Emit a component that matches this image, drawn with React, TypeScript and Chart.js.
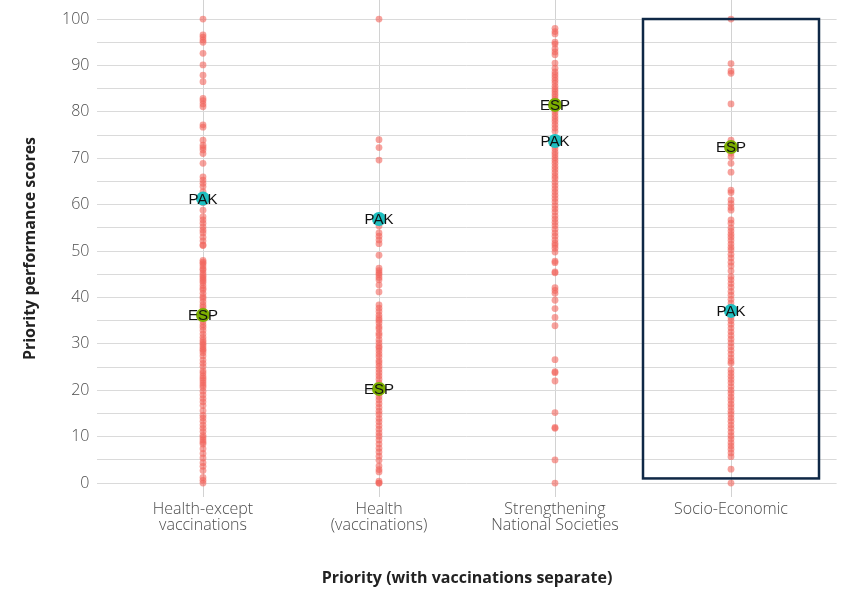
import React, { useEffect, useRef } from 'react';
import { Chart, registerables } from 'chart.js';

Chart.register(...registerables);

const categories: string[][] = [
  ['Health-except', 'vaccinations'],
  ['Health', '(vaccinations)'],
  ['Strengthening', 'National Societies'],
  ['Socio-Economic'],
];

const healthExceptScores = [
  100, 96.6, 96.1, 95.5, 95, 92.6, 90.1, 87.9, 86.5, 82.9, 82.4, 81.7, 81.1, 77.2, 76.7,
  73.9, 72.8, 72.3, 71.8, 71, 68.9, 66, 65.3, 64.6, 63.9, 62.8, 60.4, 58.8, 57.4, 56.7,
  56, 55.2, 54.5, 53.9, 53, 52.2, 51.2, 51.3, 48, 47.6, 47.3, 46.8, 46.2, 45.9, 45.3,
  44.8, 44.4, 44, 43.6, 43.2, 42.6, 42, 41.6, 40.9, 40.2, 39.8, 39.1, 38.4, 37.9, 37.2,
  36.6, 35.5, 34.8, 34.1, 33.6, 32.9, 32.1, 31.4, 30.8, 30.3, 29.9, 29.4, 28.9, 28.6,
  28.1, 27.4, 26.5, 25.8, 25.1, 24.2, 23.7, 23.1, 22.6, 22.1, 21.6, 21.1, 20.6, 19.8,
  19, 18.2, 17.5, 16.7, 15.6, 14.6, 14, 13.3, 12.5, 11.8, 11.1, 10.3, 9.8, 9.3, 8.8,
  8.4, 7.4, 6.4, 5.4, 4.4, 3.6, 2.7, 1.2, 0.6, 0,
];

const healthVaccScores = [
  100, 74, 72.3, 69.6, 56.1, 55.4, 53.9, 53.2, 52.4, 51.6, 49.1, 46.3, 45.8, 45.3, 44.9,
  44.3, 43.8, 42.7, 41.2, 38.4, 37.7, 37, 36.2, 35.6, 35.1, 34.5, 33.7, 33.2, 32.3, 31.8,
  30.9, 30.2, 29.5, 29.1, 28.5, 27.8, 27.2, 26.4, 25.9, 25.2, 24.5, 23.8, 23.1, 22.4,
  21.6, 19.3, 18.6, 17.9, 17.1, 16.3, 15.5, 14.8, 13.9, 13.2, 12.4, 11.6, 10.8, 10.1,
  9.3, 8.4, 7.5, 6.7, 5.8, 4.9, 3.7, 2.9, 2.4, 0.4, 0, 0,
];

const strengtheningScores = [
  98, 97.3, 96.8, 95, 94.6, 93.6, 92.9, 92.3, 90.5, 89.4, 88.6, 88, 87.4, 86.8, 86.2,
  85.5, 84.9, 84.4, 83.8, 83.2, 82.6, 82.1, 80.4, 79.8, 79.1, 78.5, 77.9, 77.2, 76.5,
  75.8, 73.1, 72.6, 72, 71.3, 70.7, 70.1, 69.5, 68.9, 68.2, 67.6, 66.9, 66.2, 65.6,
  64.8, 64.1, 63.4, 62.7, 62, 61.3, 60.6, 59.8, 59.1, 58.4, 57.6, 56.9, 56.2, 55.5,
  54.7, 53.9, 53.2, 52.4, 51.7, 51.2, 50.6, 49.8, 47.8, 47.5, 45.5, 45.3, 42.1, 41.5,
  40.9, 39.4, 37.6, 35.7, 33.9, 26.6, 24, 23.8, 22, 15.2, 12, 11.8, 5, 0,
];

const socioEconomicScores = [
  100, 90.4, 88.8, 88.3, 81.7, 73.9, 71.8, 71.1, 70.3, 68.9, 67, 63.1, 62.6, 61, 60.2,
  59.4, 58.8, 56.7, 56, 55, 54.3, 53.6, 53, 52.3, 51.5, 50.8, 50.2, 49.3, 48.5, 47.6,
  46.8, 45.7, 44.5, 43.8, 43, 42.2, 41.3, 40.5, 39.6, 38.8, 37.9, 36.3, 35.7, 35, 34.2,
  33.4, 32.6, 31.8, 31, 30.2, 29.4, 28.6, 27.8, 27, 26.3, 25.8, 24.4, 23.7, 23, 22.3,
  21.6, 20.8, 20, 19.3, 18.5, 17.8, 17, 16.3, 15.5, 14.8, 14, 13.3, 12.5, 11.8, 11,
  10.2, 9.5, 8.7, 8, 7.3, 6.5, 5.7, 3, 0,
];

const allScores = [healthExceptScores, healthVaccScores, strengtheningScores, socioEconomicScores];

const pakScores = [61.3, 56.9, 73.7, 37.1];
const espScores = [36.2, 20.3, 81.5, 72.4];

const yTickValues = [0, 5, 10, 15, 20, 25, 30, 35, 40, 45, 50, 55, 60, 65, 70, 75, 80, 85, 90, 95, 100];
const xTickValues = [1, 2, 3, 4];

// highlighted category box (Socio-Economic), in data units
const boxCategory = 4;
const boxScoreRange = [1, 100];

const boxPlugin = {
  id: 'boxPlugin',
  afterDatasetsDraw(chart: any) {
    const { ctx, scales } = chart;
    const x0 = scales.x.getPixelForValue(boxCategory - 0.5);
    const x1 = scales.x.getPixelForValue(boxCategory + 0.5);
    const y0 = scales.y.getPixelForValue(boxScoreRange[1]);
    const y1 = scales.y.getPixelForValue(boxScoreRange[0]);
    ctx.save();
    ctx.strokeStyle = '#0f2846';
    ctx.lineWidth = 2.5;
    ctx.strokeRect(x0, y0, x1 - x0, y1 - y0);
    ctx.restore();
  },
};

const labelPlugin = {
  id: 'labelPlugin',
  afterDraw(chart: any) {
    const { ctx } = chart;
    ctx.save();
    ctx.font = '15px "Liberation Sans", Arial, sans-serif';
    ctx.fillStyle = '#111';
    ctx.textAlign = 'center';
    ctx.textBaseline = 'middle';
    chart.data.datasets.forEach((ds: any, i: number) => {
      if (!ds.countryLabel) return;
      const meta = chart.getDatasetMeta(i);
      meta.data.forEach((pt: any) => {
        ctx.fillText(ds.countryLabel, pt.x, pt.y + 1);
      });
    });
    ctx.restore();
  },
};

export default function App() {
  const canvasRef = useRef<HTMLCanvasElement | null>(null);

  useEffect(() => {
    if (!canvasRef.current) return;
    const redPoints: { x: number; y: number }[] = [];
    allScores.forEach((arr, ci) => {
      arr.forEach((v) => redPoints.push({ x: ci + 1, y: v }));
    });

    const chart = new Chart(canvasRef.current, {
      type: 'scatter',
      data: {
        datasets: [
          {
            label: 'PAK',
            countryLabel: 'PAK',
            data: pakScores.map((v, i) => ({ x: i + 1, y: v })),
            backgroundColor: '#1fbfc0',
            borderWidth: 0,
            pointRadius: 7,
            order: 0,
          } as any,
          {
            label: 'ESP',
            countryLabel: 'ESP',
            data: espScores.map((v, i) => ({ x: i + 1, y: v })),
            backgroundColor: '#7cae00',
            borderWidth: 0,
            pointRadius: 7,
            order: 0,
          } as any,
          {
            label: 'Countries',
            data: redPoints,
            backgroundColor: 'rgba(242,100,92,0.6)',
            borderWidth: 0,
            pointRadius: 3.4,
            order: 1,
          },
        ],
      },
      options: {
        animation: false,
        responsive: false,
        layout: { autoPadding: false, padding: { left: 0, right: 8.4, top: 0, bottom: 0 } },
        plugins: { legend: { display: false }, tooltip: { enabled: false } },
        scales: {
          x: {
            type: 'linear',
            min: 0.4,
            max: 4.6,
            border: { display: false },
            grid: { color: '#d2d2d2', lineWidth: 1, drawTicks: false },
            afterBuildTicks: (scale: any) => {
              scale.ticks = xTickValues.map((v) => ({ value: v }));
            },
            afterFit: (scale: any) => {
              scale.height = 93;
              scale.paddingLeft = 0;
              scale.paddingRight = 0;
            },
            ticks: {
              autoSkip: false,
              maxRotation: 0,
              minRotation: 0,
              padding: 4,
              color: '#4d4d4d',
              font: { family: '"Open Sans", sans-serif', size: 16, weight: '300', lineHeight: 1.0 },
              callback: (v: any) => categories[Math.round(v) - 1] || '',
            },
            title: {
              display: true,
              text: 'Priority (with vaccinations separate)',
              color: '#222',
              font: { family: '"Open Sans", sans-serif', size: 16, weight: 'bold' },
              padding: { top: 0, bottom: 2.4 },
            },
          },
          y: {
            type: 'linear',
            min: -3,
            max: 104.1,
            border: { display: false },
            grid: { color: '#dadada', lineWidth: 1, drawTicks: false },
            afterBuildTicks: (scale: any) => {
              scale.ticks = yTickValues.map((v) => ({ value: v }));
            },
            afterFit: (scale: any) => {
              scale.width = 97.4;
              scale.paddingTop = 0;
              scale.paddingBottom = 0;
            },
            ticks: {
              padding: 8,
              color: '#4d4d4d',
              font: { family: '"Open Sans", sans-serif', size: 16, weight: '300' },
              callback: (v: any) => (Number(v) % 10 === 0 ? String(v) : ''),
            },
            title: {
              display: true,
              text: 'Priority performance scores',
              color: '#222',
              font: { family: '"Open Sans", sans-serif', size: 16, weight: 'bold' },
              padding: { top: 20.4, bottom: 0 },
            },
          },
        },
      } as any,
      plugins: [boxPlugin, labelPlugin],
    });
    return () => chart.destroy();
  }, []);

  return (
    <div style={{ position: 'fixed', left: 0, top: 0, width: 845, height: 590, background: '#fff' }}>
      <canvas ref={canvasRef} width={845} height={590} style={{ display: 'block' }} />
    </div>
  );
}
